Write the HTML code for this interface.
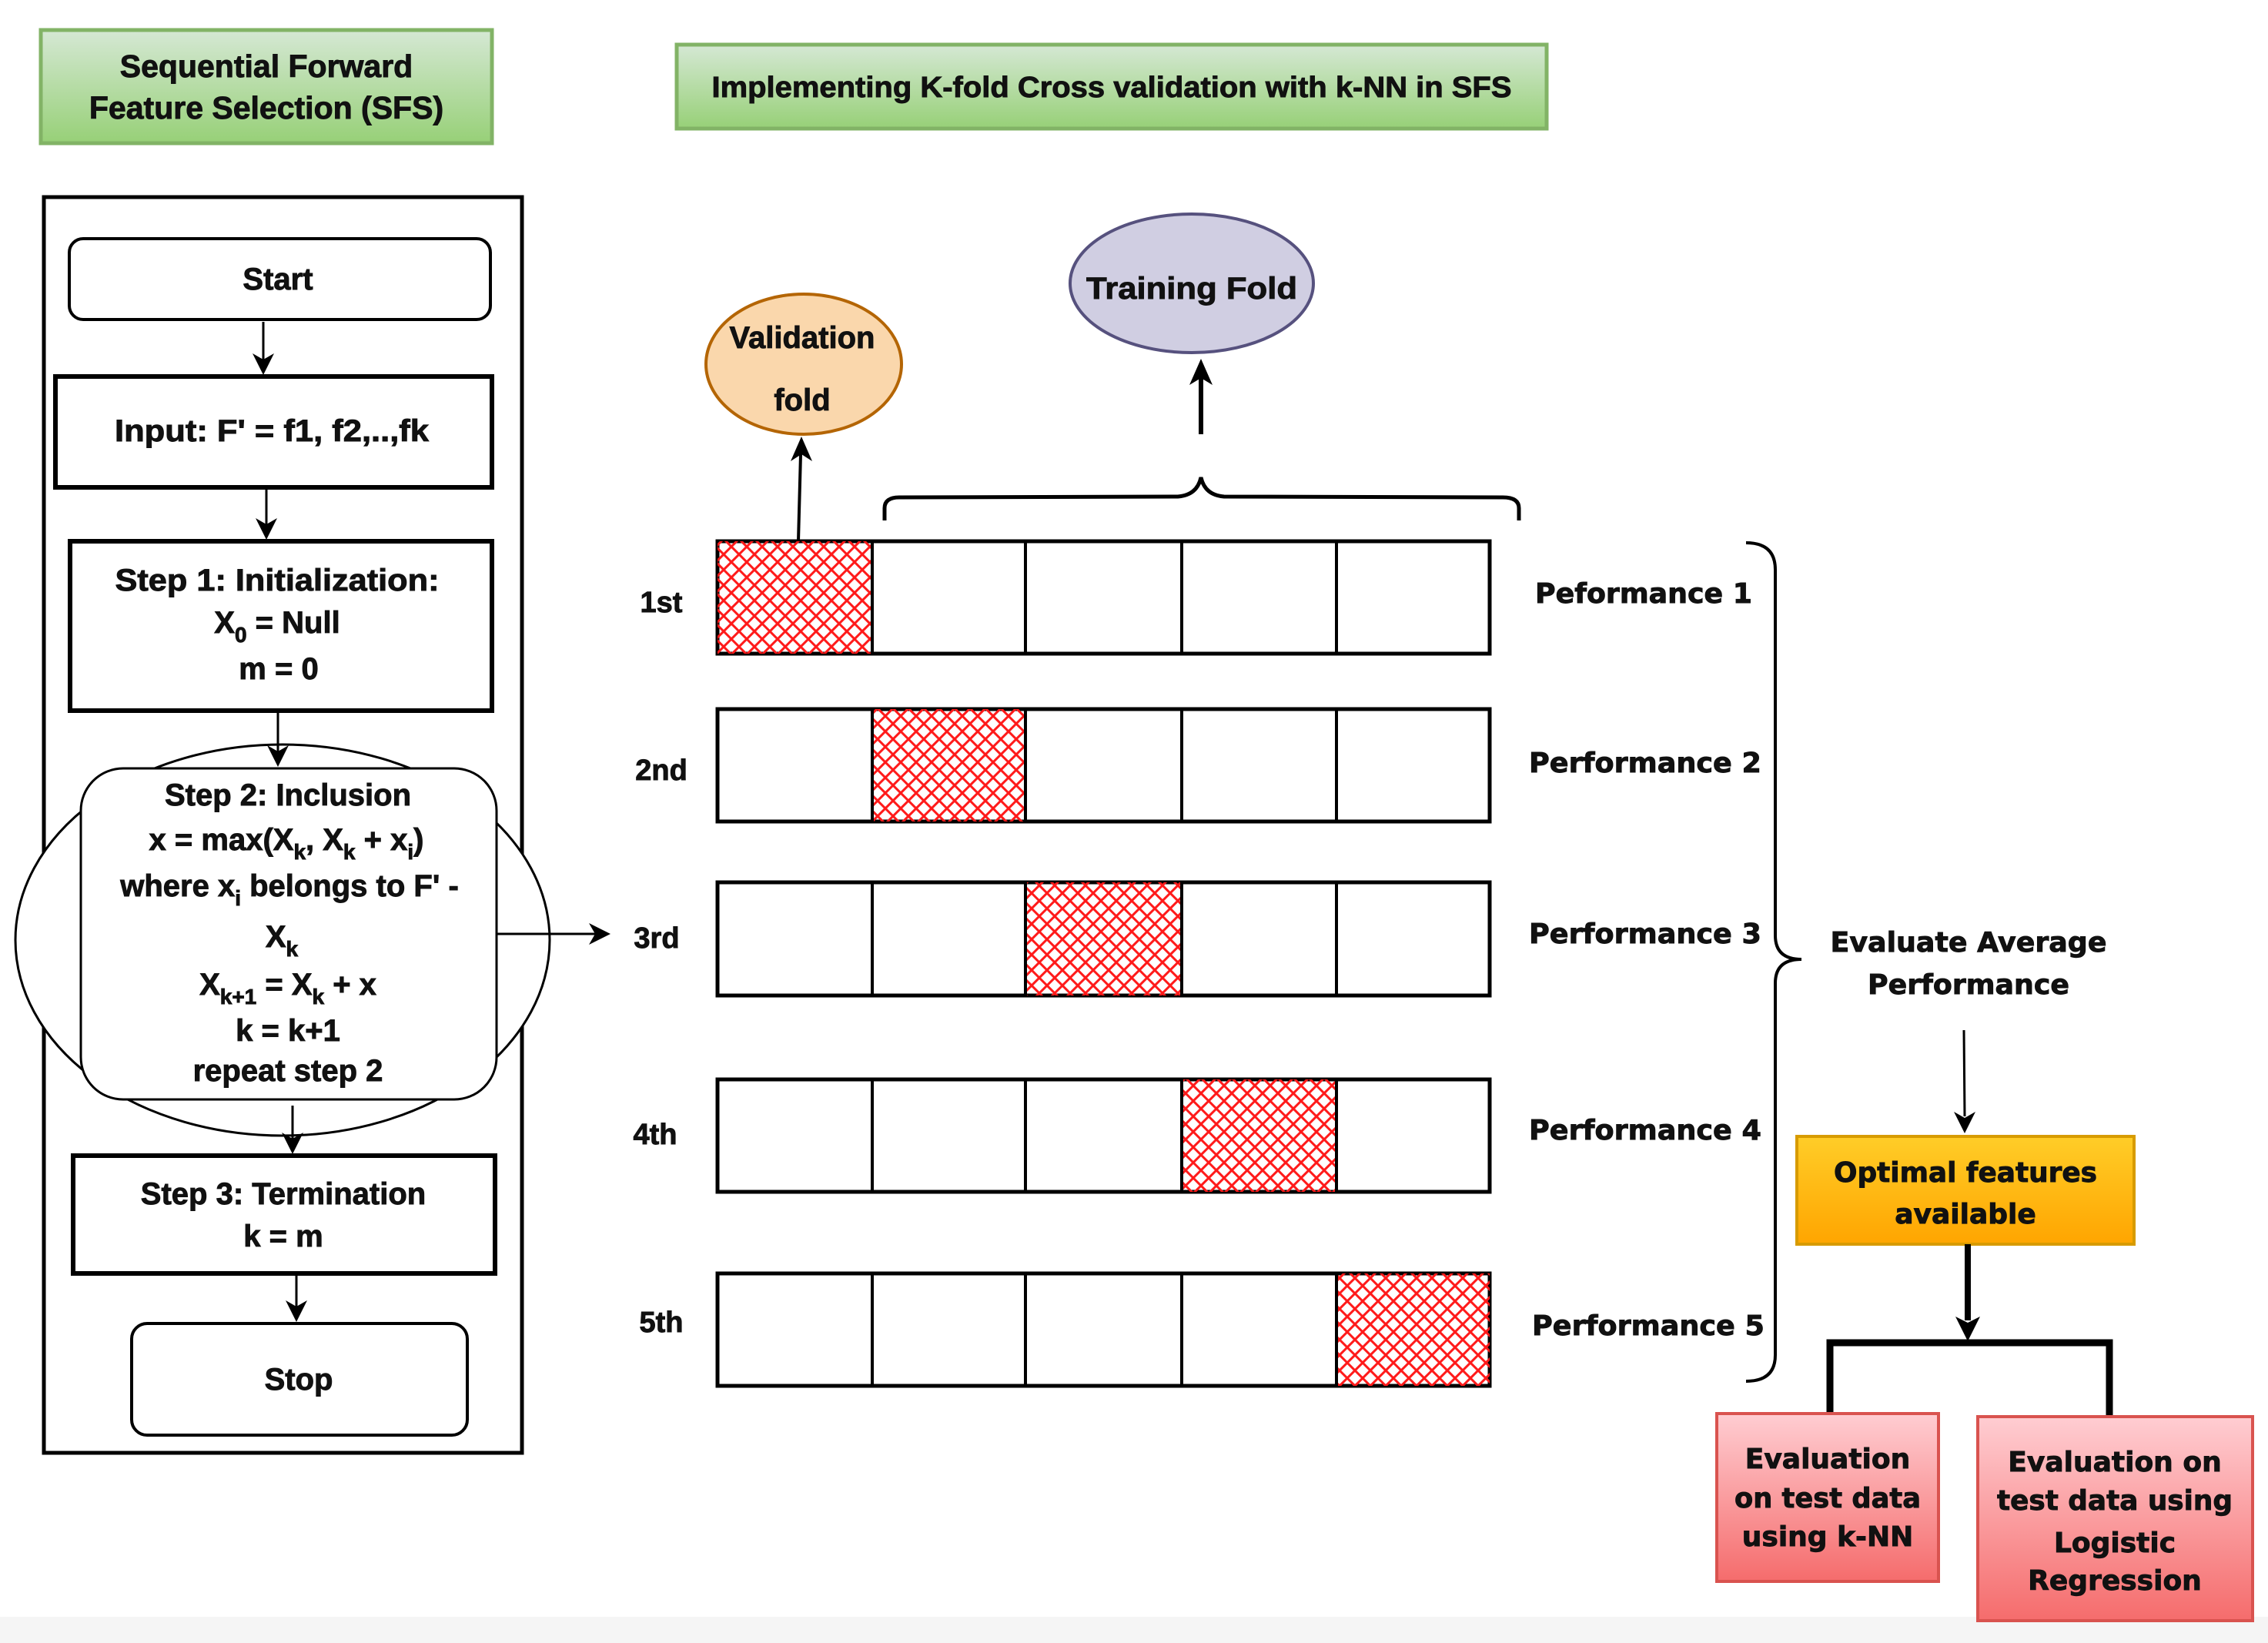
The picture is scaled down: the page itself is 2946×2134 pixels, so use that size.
<!DOCTYPE html>
<html><head><meta charset="utf-8"><style>
html,body{margin:0;padding:0;background:#fff;}
svg{display:block;}
text{font-family:"Liberation Sans",Arial,sans-serif;font-weight:700;fill:#111;stroke:#111;stroke-width:0.9px;}
.w{font-family:"DejaVu Sans","Liberation Sans",sans-serif;font-weight:700;}
</style></head><body>
<svg width="2946" height="2134" viewBox="0 0 2946 2134" xmlns="http://www.w3.org/2000/svg" font-family="Liberation Sans, sans-serif" font-weight="bold">
<defs>
<linearGradient id="gg" x1="0" y1="0" x2="0" y2="1"><stop offset="0" stop-color="#d5e8d4"/><stop offset="1" stop-color="#97d077"/></linearGradient>
<linearGradient id="gy" x1="0" y1="0" x2="0" y2="1"><stop offset="0" stop-color="#ffcd28"/><stop offset="1" stop-color="#ffa500"/></linearGradient>
<linearGradient id="gr" x1="0" y1="0" x2="0" y2="1"><stop offset="0" stop-color="#ffcdd2"/><stop offset="1" stop-color="#f56c6c"/></linearGradient>
<pattern id="hatch" width="20" height="20" patternUnits="userSpaceOnUse">
<path d="M-5,5 L5,-5 M0,20 L20,0 M15,25 L25,15 M-5,15 L5,25 M0,0 L20,20 M15,-5 L25,5" stroke="#ff1a1a" stroke-width="3"/>
</pattern>
</defs>
<rect x="0" y="2100" width="2946" height="34" fill="#f5f5f5"/>

<rect x="53" y="39" width="586" height="147" fill="url(#gg)" stroke="#82b366" stroke-width="5"/>
<text x="346" y="100" font-size="41" text-anchor="middle">Sequential Forward</text>
<text x="346" y="154" font-size="41" text-anchor="middle">Feature Selection (SFS)</text>
<rect x="879" y="58" width="1130" height="109" fill="url(#gg)" stroke="#82b366" stroke-width="5"/>
<text x="1444" y="126" font-size="38" text-anchor="middle" textLength="1039" lengthAdjust="spacingAndGlyphs">Implementing K-fold Cross validation with k-NN in SFS</text>

<rect x="57" y="256" width="621" height="1631" fill="none" stroke="#000" stroke-width="5"/>
<rect x="90" y="310" width="547" height="105" rx="18" fill="#fff" stroke="#000" stroke-width="4"/>
<text x="361" y="376" font-size="40" text-anchor="middle">Start</text>
<rect x="72" y="489" width="567" height="144" fill="#fff" stroke="#000" stroke-width="6"/>
<text x="353" y="573" font-size="40" text-anchor="middle" textLength="408" lengthAdjust="spacingAndGlyphs">Input: F' = f1, f2,..,fk</text>
<rect x="91" y="703" width="548" height="220" fill="#fff" stroke="#000" stroke-width="6"/>
<text x="360" y="767" font-size="40" text-anchor="middle" textLength="421" lengthAdjust="spacingAndGlyphs">Step 1: Initialization:</text>
<text x="360" y="822" font-size="40" text-anchor="middle">X<tspan font-size="28" dy="12">0</tspan><tspan dy="-12"> = Null</tspan></text>
<text x="362" y="882" font-size="40" text-anchor="middle">m = 0</text>

<ellipse cx="367" cy="1221" rx="347" ry="254" fill="#fff" stroke="#000" stroke-width="3"/>
<rect x="105" y="998" width="540" height="430" rx="55" fill="#fff" stroke="#000" stroke-width="3"/>
<text x="374" y="1046" font-size="40" text-anchor="middle">Step 2: Inclusion</text>
<text x="372" y="1104" font-size="40" text-anchor="middle">x = max(X<tspan font-size="28" dy="12">k</tspan><tspan dy="-12">, X</tspan><tspan font-size="28" dy="12">k</tspan><tspan dy="-12"> + x</tspan><tspan font-size="28" dy="12">i</tspan><tspan dy="-12">)</tspan></text>
<text x="376" y="1164" font-size="40" text-anchor="middle">where x<tspan font-size="28" dy="12">i</tspan><tspan dy="-12"> belongs to F' -</tspan></text>
<text x="366" y="1230" font-size="40" text-anchor="middle">X<tspan font-size="28" dy="12">k</tspan></text>
<text x="374" y="1292" font-size="40" text-anchor="middle">X<tspan font-size="28" dy="12">k+1</tspan><tspan dy="-12"> = X</tspan><tspan font-size="28" dy="12">k</tspan><tspan dy="-12"> + x</tspan></text>
<text x="374" y="1352" font-size="40" text-anchor="middle">k = k+1</text>
<text x="374" y="1404" font-size="40" text-anchor="middle">repeat step 2</text>

<rect x="95" y="1501" width="548" height="153" fill="#fff" stroke="#000" stroke-width="6"/>
<text x="368" y="1564" font-size="40" text-anchor="middle">Step 3: Termination</text>
<text x="368" y="1619" font-size="40" text-anchor="middle">k = m</text>
<rect x="171" y="1719" width="436" height="145" rx="20" fill="#fff" stroke="#000" stroke-width="4"/>
<text x="388" y="1805" font-size="40" text-anchor="middle">Stop</text>

<g stroke="#000" stroke-width="3">
<line x1="342" y1="418" x2="342" y2="475"/>
<line x1="346" y1="636" x2="346" y2="690"/>
<line x1="361" y1="926" x2="361" y2="985"/>
<line x1="380" y1="1436" x2="380" y2="1488"/>
<line x1="385" y1="1657" x2="385" y2="1706"/>
<line x1="645" y1="1213" x2="780" y2="1213"/>
</g>
<g fill="#000">
<path d="M342,487 l-14,-28 l14,8 l14,-8z"/>
<path d="M346,701 l-14,-28 l14,8 l14,-8z"/>
<path d="M361,996 l-14,-28 l14,8 l14,-8z"/>
<path d="M380,1499 l-14,-28 l14,8 l14,-8z"/>
<path d="M385,1717 l-14,-28 l14,8 l14,-8z"/>
<path d="M793,1213 l-28,-14 l8,14 l-8,14z"/>
</g>

<ellipse cx="1044" cy="473" rx="127" ry="91" fill="#fad7ac" stroke="#b46504" stroke-width="4"/>
<text x="1042" y="452" font-size="40" text-anchor="middle">Validation</text>
<text x="1042" y="533" font-size="40" text-anchor="middle">fold</text>
<ellipse cx="1548" cy="368" rx="158" ry="90" fill="#d0cee2" stroke="#56517e" stroke-width="4"/>
<text x="1548" y="388" font-size="40" text-anchor="middle" textLength="274" lengthAdjust="spacingAndGlyphs">Training Fold</text>
<line x1="1037" y1="703" x2="1040" y2="590" stroke="#000" stroke-width="4"/>
<path d="M1041,567 l-14,32 l14,-9 l14,9z" fill="#000"/>
<line x1="1560" y1="564" x2="1560" y2="490" stroke="#000" stroke-width="6"/>
<path d="M1560,466 l-15,34 l15,-9 l15,9z" fill="#000"/>
<path d="M1149,676 L1149,660 Q1149,646 1168,646 L1530,645 Q1555,643 1560,620 Q1565,643 1590,645 L1952,646 Q1973,646 1973,660 L1973,676" fill="none" stroke="#000" stroke-width="5"/>

<g stroke="#000" stroke-width="5" fill="#fff">
<rect x="932" y="703" width="1003" height="146"/>
<rect x="932" y="921" width="1003" height="146"/>
<rect x="932" y="1146" width="1003" height="147"/>
<rect x="932" y="1402" width="1003" height="146"/>
<rect x="932" y="1654" width="1003" height="146"/>
</g>
<g fill="url(#hatch)">
<rect x="932" y="703" width="201" height="146"/>
<rect x="1133" y="921" width="199" height="146"/>
<rect x="1332" y="1146" width="203" height="147"/>
<rect x="1535" y="1402" width="201" height="146"/>
<rect x="1736" y="1654" width="199" height="146"/>
</g>
<g stroke="#000" stroke-width="4">
<line x1="1133" y1="703" x2="1133" y2="849"/><line x1="1332" y1="703" x2="1332" y2="849"/><line x1="1535" y1="703" x2="1535" y2="849"/><line x1="1736" y1="703" x2="1736" y2="849"/>
<line x1="1133" y1="921" x2="1133" y2="1067"/><line x1="1332" y1="921" x2="1332" y2="1067"/><line x1="1535" y1="921" x2="1535" y2="1067"/><line x1="1736" y1="921" x2="1736" y2="1067"/>
<line x1="1133" y1="1146" x2="1133" y2="1293"/><line x1="1332" y1="1146" x2="1332" y2="1293"/><line x1="1535" y1="1146" x2="1535" y2="1293"/><line x1="1736" y1="1146" x2="1736" y2="1293"/>
<line x1="1133" y1="1402" x2="1133" y2="1548"/><line x1="1332" y1="1402" x2="1332" y2="1548"/><line x1="1535" y1="1402" x2="1535" y2="1548"/><line x1="1736" y1="1402" x2="1736" y2="1548"/>
<line x1="1133" y1="1654" x2="1133" y2="1800"/><line x1="1332" y1="1654" x2="1332" y2="1800"/><line x1="1535" y1="1654" x2="1535" y2="1800"/><line x1="1736" y1="1654" x2="1736" y2="1800"/>
</g>
<g font-size="38" text-anchor="middle">
<text x="859" y="795">1st</text>
<text x="859" y="1013">2nd</text>
<text x="853" y="1231">3rd</text>
<text x="851" y="1486">4th</text>
<text x="859" y="1730">5th</text>
</g>
<g font-size="36">
<text class="w" x="1994" y="783" textLength="282" lengthAdjust="spacingAndGlyphs">Peformance 1</text>
<text class="w" x="1986" y="1003" textLength="302" lengthAdjust="spacingAndGlyphs">Performance 2</text>
<text class="w" x="1986" y="1225" textLength="302" lengthAdjust="spacingAndGlyphs">Performance 3</text>
<text class="w" x="1986" y="1480" textLength="302" lengthAdjust="spacingAndGlyphs">Performance 4</text>
<text class="w" x="1990" y="1734" textLength="302" lengthAdjust="spacingAndGlyphs">Performance 5</text>
</g>
<path d="M2268,705 Q2306,705 2306,740 L2306,1215 Q2306,1246 2340,1246 Q2306,1246 2306,1277 L2306,1760 Q2306,1794 2268,1794" fill="none" stroke="#000" stroke-width="4"/>
<text class="w" x="2557" y="1236" font-size="36" text-anchor="middle" textLength="359" lengthAdjust="spacingAndGlyphs">Evaluate Average</text>
<text class="w" x="2557" y="1291" font-size="36" text-anchor="middle" textLength="262" lengthAdjust="spacingAndGlyphs">Performance</text>
<line x1="2551" y1="1338" x2="2552" y2="1450" stroke="#000" stroke-width="3"/>
<path d="M2552,1472 l-14,-28 l14,8 l14,-8z" fill="#000"/>
<rect x="2334" y="1476" width="438" height="140" fill="url(#gy)" stroke="#d79b00" stroke-width="4"/>
<text class="w" x="2553" y="1535" font-size="36" text-anchor="middle" textLength="342" lengthAdjust="spacingAndGlyphs">Optimal features</text>
<text class="w" x="2553" y="1589" font-size="36" text-anchor="middle">available</text>
<line x1="2556" y1="1616" x2="2556" y2="1715" stroke="#000" stroke-width="8"/>
<path d="M2556,1742 l-16,-32 l16,8 l16,-8z" fill="#000"/>
<path d="M2377,1838 L2377,1744 L2740,1744 L2740,1838" fill="none" stroke="#000" stroke-width="9"/>
<rect x="2230" y="1836" width="288" height="218" fill="url(#gr)" stroke="#d9534f" stroke-width="4"/>
<text class="w" x="2374" y="1907" font-size="36" text-anchor="middle">Evaluation</text>
<text class="w" x="2374" y="1958" font-size="36" text-anchor="middle" textLength="242" lengthAdjust="spacingAndGlyphs">on test data</text>
<text class="w" x="2374" y="2008" font-size="36" text-anchor="middle">using k-NN</text>
<rect x="2569" y="1840" width="357" height="265" fill="url(#gr)" stroke="#d9534f" stroke-width="4"/>
<text class="w" x="2747" y="1911" font-size="36" text-anchor="middle">Evaluation on</text>
<text class="w" x="2747" y="1961" font-size="36" text-anchor="middle" textLength="306" lengthAdjust="spacingAndGlyphs">test data using</text>
<text class="w" x="2747" y="2016" font-size="36" text-anchor="middle">Logistic</text>
<text class="w" x="2747" y="2065" font-size="36" text-anchor="middle">Regression</text>
</svg>
</body></html>
